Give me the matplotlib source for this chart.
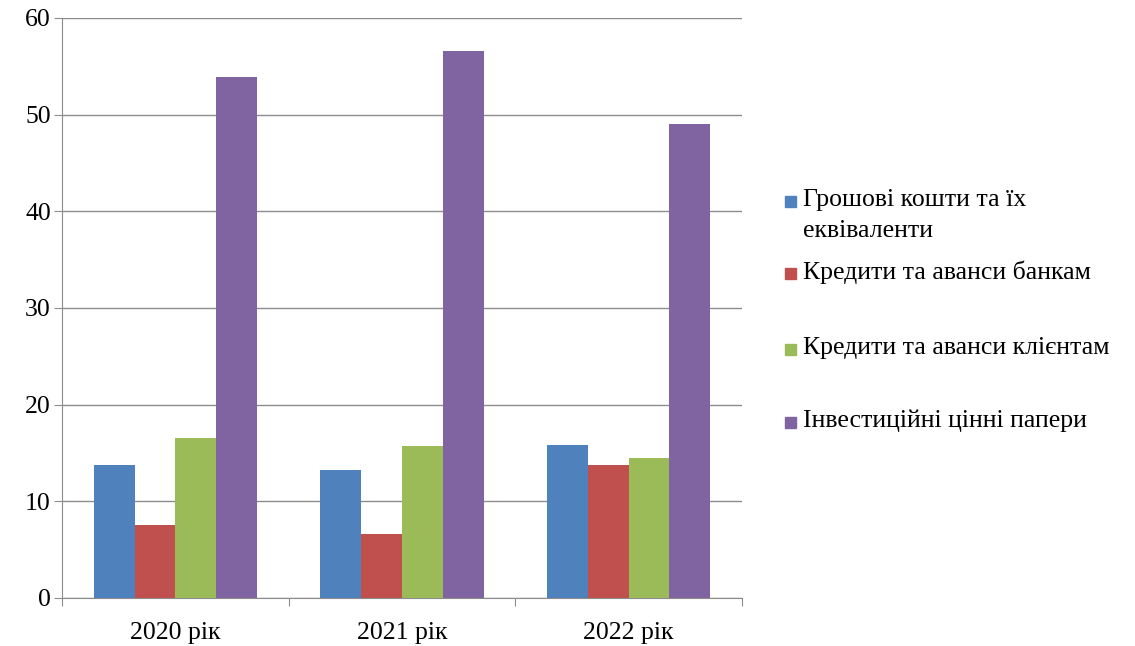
import matplotlib
matplotlib.use("Agg")
import matplotlib.pyplot as plt
from matplotlib.patches import Rectangle
import numpy as np

plt.rcParams['font.family'] = ['Liberation Serif', 'DejaVu Serif']

years = ["2020 рік", "2021 рік", "2022 рік"]
series_names = [
    "Грошові кошти та їх\nеквіваленти",
    "Кредити та аванси банкам",
    "Кредити та аванси клієнтам",
    "Інвестиційні цінні папери",
]
cash = [13.8, 13.2, 15.8]
bank_loans = [7.6, 6.6, 13.8]
client_loans = [16.6, 15.7, 14.5]
securities = [53.9, 56.6, 49.0]
colors = ["#4F81BD", "#C0504D", "#9BBB59", "#8064A2"]
y_ticks = [0, 10, 20, 30, 40, 50, 60]

fig = plt.figure(figsize=(11.35, 6.46), dpi=100)
W, H = 1135, 646
ax = fig.add_axes([62 / W, 1 - 598 / H, (742 - 62) / W, (598 - 18) / H])

x = np.arange(len(years))
bw = 0.18
all_series = [cash, bank_loans, client_loans, securities]
for i, (vals, col) in enumerate(zip(all_series, colors)):
    ax.bar(x + (i - 1.5) * bw, vals, width=bw, color=col, zorder=3)

ax.set_xlim(-0.5, len(years) - 0.5)
ax.set_ylim(0, 60)
ax.set_yticks(y_ticks)
ax.set_yticklabels([str(t) for t in y_ticks], fontsize=18.5)
ax.yaxis.grid(True, color="#8c8c8c", linewidth=1.0, zorder=0)
ax.set_axisbelow(True)

# category boundary ticks on x axis, labels centred between them
ax.set_xticks(np.arange(-0.5, len(years), 1.0))
ax.set_xticklabels([])
ax.set_xticks(x, minor=True)
ax.set_xticklabels(years, minor=True, fontsize=18.5)
ax.tick_params(axis="x", which="minor", length=0, pad=17)
ax.tick_params(axis="x", which="major", length=6, color="#8c8c8c", direction="out")
ax.tick_params(axis="y", length=6, color="#8c8c8c", direction="out", pad=2)

for side in ["top", "right"]:
    ax.spines[side].set_visible(False)
for side in ["left", "bottom"]:
    ax.spines[side].set_color("#8c8c8c")

# legend on the right
entry_y = [202, 274, 350, 423]
for name, col, yy in zip(series_names, colors, entry_y):
    fig.patches.append(Rectangle((785 / W, 1 - (yy + 5) / H), 11 / W, 11 / H,
                                 transform=fig.transFigure, color=col))
    fig.text(803 / W, 1 - (yy - 13) / H, name, fontsize=18.5, va="top",
             ha="left", linespacing=1.55)

fig.savefig("out.png", dpi=100)
